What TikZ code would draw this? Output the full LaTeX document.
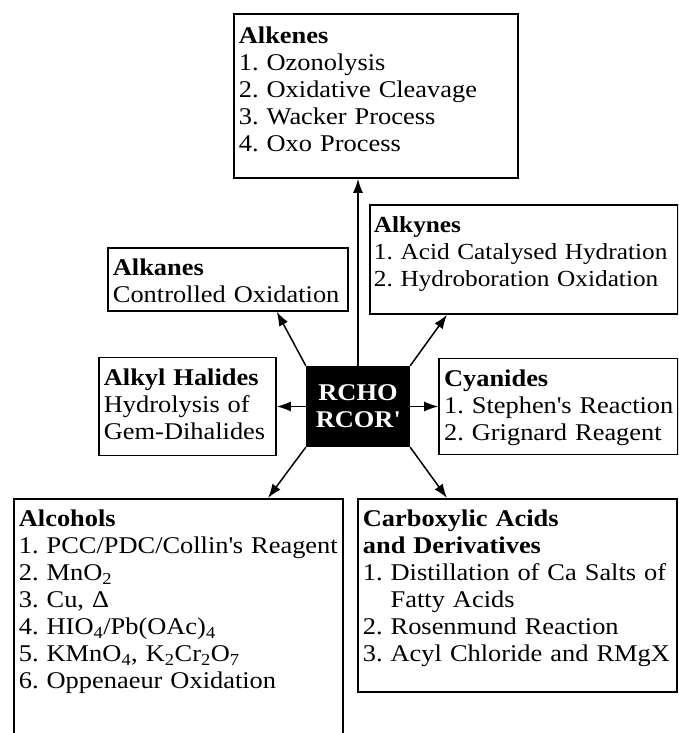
\documentclass[tikz,border=0pt]{standalone}
\usepackage{fontspec}
\setmainfont{Liberation Serif}[FakeStretch=1.1]
\frenchspacing
\usetikzlibrary{arrows.meta, calc, positioning}
\tikzset{react node/.style={draw,line width=1.8pt,anchor=north west,align=left,inner xsep=5pt,inner ysep=0pt,text height=28pt},
  core node/.style={fill=black,text=white,align=center,minimum width=104pt,minimum height=81pt},}

\begin{document}
\begin{tikzpicture}[x=1pt, y=1pt, every node/.style={font=\fontsize{24}{27}\selectfont}]
       \useasboundingbox (0,0) rectangle (678,733);
       \clip (0,0) rectangle (678,733);

       \node[core node] (core) at (358,326.5) {\textbf{RCHO}\\ \textbf{RCOR\textquotesingle}};

       \node[react node, text width=274pt, text height=30pt, text depth=134pt] (alkenes) at (233,720)
              {\textbf{Alkenes}\\ 1. Ozonolysis\\ 2. Oxidative Cleavage\\ 3. Wacker Process\\ 4. Oxo Process};
       \node[react node, text width=230pt, text depth=35pt] (alkanes) at (107,486)
              {\textbf{Alkanes}\\ Controlled Oxidation};
       \node[react node, font=\fontsize{23}{27}\selectfont, inner xsep=4pt, text width=300pt, text depth=81pt] (alkynes) at (369,529)
              {\textbf{Alkynes}\\ \mbox{1. Acid Catalysed Hydration}\\ \mbox{2. Hydroboration Oxidation}};
       \node[react node, text width=167pt, text depth=70pt] (halides) [left = 29pt of core]
              {\textbf{Alkyl Halides}\\ Hydrolysis of\\ Gem-Dihalides};
       \node[react node, text width=229pt, text depth=68pt] (cyanides) [right = 28pt of core]
              {\textbf{Cyanides}\\ \mbox{1. Stephen\textquotesingle s Reaction}\\ 2. Grignard Reagent};
       \node[react node, text width=319pt, text depth=300pt] (alcohols) at (13,235)
              {\textbf{Alcohols}\\ \mbox{1. PCC/PDC/Collin\textquotesingle s Reagent}\\ 2. MnO\textsubscript{2}\\ 3. Cu, Δ\\
               4. HIO\textsubscript{4}/Pb(OAc)\textsubscript{4}\\ 5. KMnO\textsubscript{4}, K\textsubscript{2}Cr\textsubscript{2}O\textsubscript{7}\\ 6. Oppenaeur Oxidation};
       \node[react node, text width=309pt, text depth=165pt] (acids) at (357,235)
              {\textbf{Carboxylic Acids}\\ \textbf{and Derivatives}\\ \mbox{1. Distillation of Ca Salts of}\\ \hphantom{1. }Fatty Acids\\
               2. Rosenmund Reaction\\ \mbox{3. Acyl Chloride and RMgX}};

       \path[line width=1.5pt, -{Latex[length=14pt,width=10pt]}]
       (core.north) edge (core.north |- alkenes.south)
       (core.west) edge (halides.east)
       (core.east) edge (cyanides.west)
       (core.north west) edge (halides.east |- alkanes.south)
       (core.north east) edge ($(alkynes.south west)+(78,0)$)
       (core.south west) edge ($(alcohols.north west)+(255,0)$)
       (core.south east) edge ($(acids.north west)+(90,0)$);
\end{tikzpicture}
\end{document}
